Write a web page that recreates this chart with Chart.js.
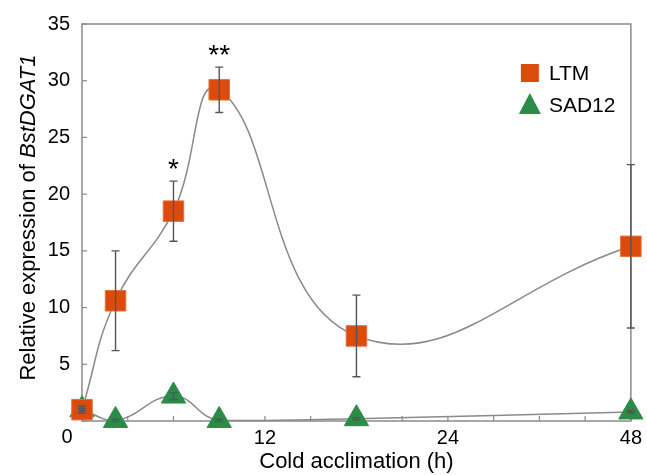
<!DOCTYPE html>
<html>
<head>
<meta charset="utf-8">
<style>
  html, body { margin: 0; padding: 0; background: #fff; }
  #wrap { width: 647px; height: 475px; }
</style>
<script src="https://cdn.jsdelivr.net/npm/chart.js@4/dist/chart.umd.min.js"></script>
</head>
<body>
<div id="wrap"><canvas id="cold"></canvas></div>
<script>
// sampling times (h) and relative expression
const hours = [0, 2.2, 6, 9, 18, 48]
const ltm = [1.0, 10.6, 18.5, 29.2, 7.5, 15.4]
const ltmErr = [0.3, 4.4, 2.65, 2.0, 3.6, 7.2]
const sad12 = [1.0, 0.05, 2.2, 0.05, 0.2, 0.8]
const sad12Err = [0.1, 0.1, 0.3, 0.1, 0.1, 0.1]
const stars = ['', '', '*', '**', '', '']
const xTickLabels = { 0: '0', 12: '12', 24: '24', 36: '48' }

const orange = '#dc4a0c'
const green = '#2a8c47'
const grey = '#8a8a8a'
const FONT = "'Liberation Sans', Arial, sans-serif"

// x axis is broken after 24 h: 24-48 h squeezed into half the space
function pos(h) { return h <= 24 ? h : 24 + (h - 24) / 2 }

const errs = [ltmErr, sad12Err]

const decor = {
  id: 'decor',
  beforeDatasetsDraw(chart) {
    const {ctx, chartArea: a, scales: {x, y}} = chart
    ctx.save()
    ctx.strokeStyle = grey
    ctx.lineWidth = 1.5
    ctx.strokeRect(a.left, a.top, a.right - a.left, a.bottom - a.top)
    ctx.lineWidth = 1.2
    x.ticks.forEach(t => {
      const px = x.getPixelForValue(t.value)
      ctx.beginPath(); ctx.moveTo(px, a.bottom); ctx.lineTo(px, a.bottom - 5); ctx.stroke()
    })
    y.ticks.forEach(t => {
      const py = y.getPixelForValue(t.value)
      ctx.beginPath(); ctx.moveTo(a.left, py); ctx.lineTo(a.left + 5, py); ctx.stroke()
    })
    ctx.restore()
  },
  afterDatasetsDraw(chart) {
    const {ctx, scales: {x, y}} = chart
    ctx.save()
    ctx.strokeStyle = '#555'
    ctx.lineWidth = 1.4
    chart.data.datasets.forEach((ds, di) => {
      ds.data.forEach((p, i) => {
        const px = x.getPixelForValue(p.x)
        const top = y.getPixelForValue(p.y + errs[di][i])
        const bot = y.getPixelForValue(p.y - errs[di][i])
        ctx.beginPath()
        ctx.moveTo(px, top); ctx.lineTo(px, bot)
        ctx.moveTo(px - 4, top); ctx.lineTo(px + 4, top)
        ctx.moveTo(px - 4, bot); ctx.lineTo(px + 4, bot)
        ctx.stroke()
        if (di === 0 && stars[i]) {
          ctx.fillStyle = '#000'
          ctx.font = '28px ' + FONT
          ctx.textAlign = 'center'
          ctx.textBaseline = 'alphabetic'
          ctx.fillText(stars[i], px, top - 3)
        }
      })
    })
    ctx.restore()
  },
  afterDraw(chart) {
    const {ctx, chartArea: a} = chart
    ctx.save()
    // corner zero label
    ctx.fillStyle = '#000'
    ctx.font = '20px ' + FONT
    ctx.textAlign = 'center'
    ctx.textBaseline = 'middle'
    ctx.fillText('0', a.left - 15, a.bottom + 16)

    // legend inside the plot
    ctx.textAlign = 'left'
    ctx.font = '21px ' + FONT
    chart.data.datasets.forEach((ds, i) => {
      const cy = a.top + 49 + i * 32
      const cx = a.right - 101
      ctx.fillStyle = ds.pointBackgroundColor
      ctx.beginPath()
      if (ds.pointStyle === 'rect') {
        ctx.rect(cx - 9, cy - 9, 18, 18)
      } else {
        ctx.moveTo(cx, cy - 12); ctx.lineTo(cx + 11, cy + 9); ctx.lineTo(cx - 11, cy + 9); ctx.closePath()
      }
      ctx.fill()
      ctx.fillStyle = '#000'
      ctx.fillText(ds.label, cx + 19, cy + 1)
    })

    // y axis title with italic gene name
    const p1 = 'Relative expression of ', p2 = 'BstDGAT1'
    ctx.translate(29, (a.top + a.bottom) / 2 - 5)
    ctx.rotate(-Math.PI / 2)
    ctx.font = '22px ' + FONT
    const w1 = ctx.measureText(p1).width
    ctx.font = 'italic 22px ' + FONT
    const w2 = ctx.measureText(p2).width
    let sx = -(w1 + w2) / 2
    ctx.font = '22px ' + FONT
    ctx.fillText(p1, sx, 0)
    ctx.font = 'italic 22px ' + FONT
    ctx.fillText(p2, sx + w1, 0)
    ctx.restore()
  }
}

const chart = new Chart(document.getElementById('cold'), {
  type: 'line',
  data: {
    datasets: [
      {
        label: 'LTM',
        data: hours.map((h, i) => ({x: pos(h), y: ltm[i]})),
        borderColor: grey,
        borderWidth: 1.5,
        tension: 0.45,
        pointStyle: 'rect',
        pointRadius: 14.5,
        pointBackgroundColor: orange,
        pointBorderColor: '#e8703a',
        pointBorderWidth: 1,
        clip: false
      },
      {
        label: 'SAD12',
        data: hours.map((h, i) => ({x: pos(h), y: sad12[i]})),
        borderColor: grey,
        borderWidth: 1.5,
        tension: 0.45,
        pointStyle: 'triangle',
        pointRadius: 14,
        pointBackgroundColor: green,
        pointBorderColor: green,
        pointBorderWidth: 1,
        clip: false
      }
    ]
  },
  options: {
    responsive: true,
    maintainAspectRatio: false,
    animation: false,
    layout: { padding: { top: 19, right: 11, left: 0, bottom: 0 } },
    plugins: {
      legend: { display: false },
      tooltip: { enabled: false }
    },
    scales: {
      x: {
        type: 'linear',
        min: 0, max: 36,
        grid: { display: false, drawTicks: false },
        border: { display: false },
        ticks: {
          stepSize: 3,
          autoSkip: false,
          maxRotation: 0,
          padding: 5,
          color: '#000',
          font: { size: 20, family: FONT },
          callback: v => (v === 0 ? '' : (xTickLabels[v] || ''))
        },
        title: {
          display: true,
          text: 'Cold acclimation (h)',
          color: '#000',
          font: { size: 22, family: FONT },
          padding: { top: 0, bottom: 0 }
        },
        afterFit: s => { s.height = 54 }
      },
      y: {
        min: 0, max: 35,
        grid: { display: false, drawTicks: false },
        border: { display: false },
        ticks: {
          stepSize: 5,
          padding: 12,
          color: '#000',
          font: { size: 20, family: FONT },
          callback: v => (v === 0 ? '' : v)
        },
        afterFit: s => { s.width = 82 }
      }
    }
  },
  plugins: [decor]
})
</script>
</body>
</html>
